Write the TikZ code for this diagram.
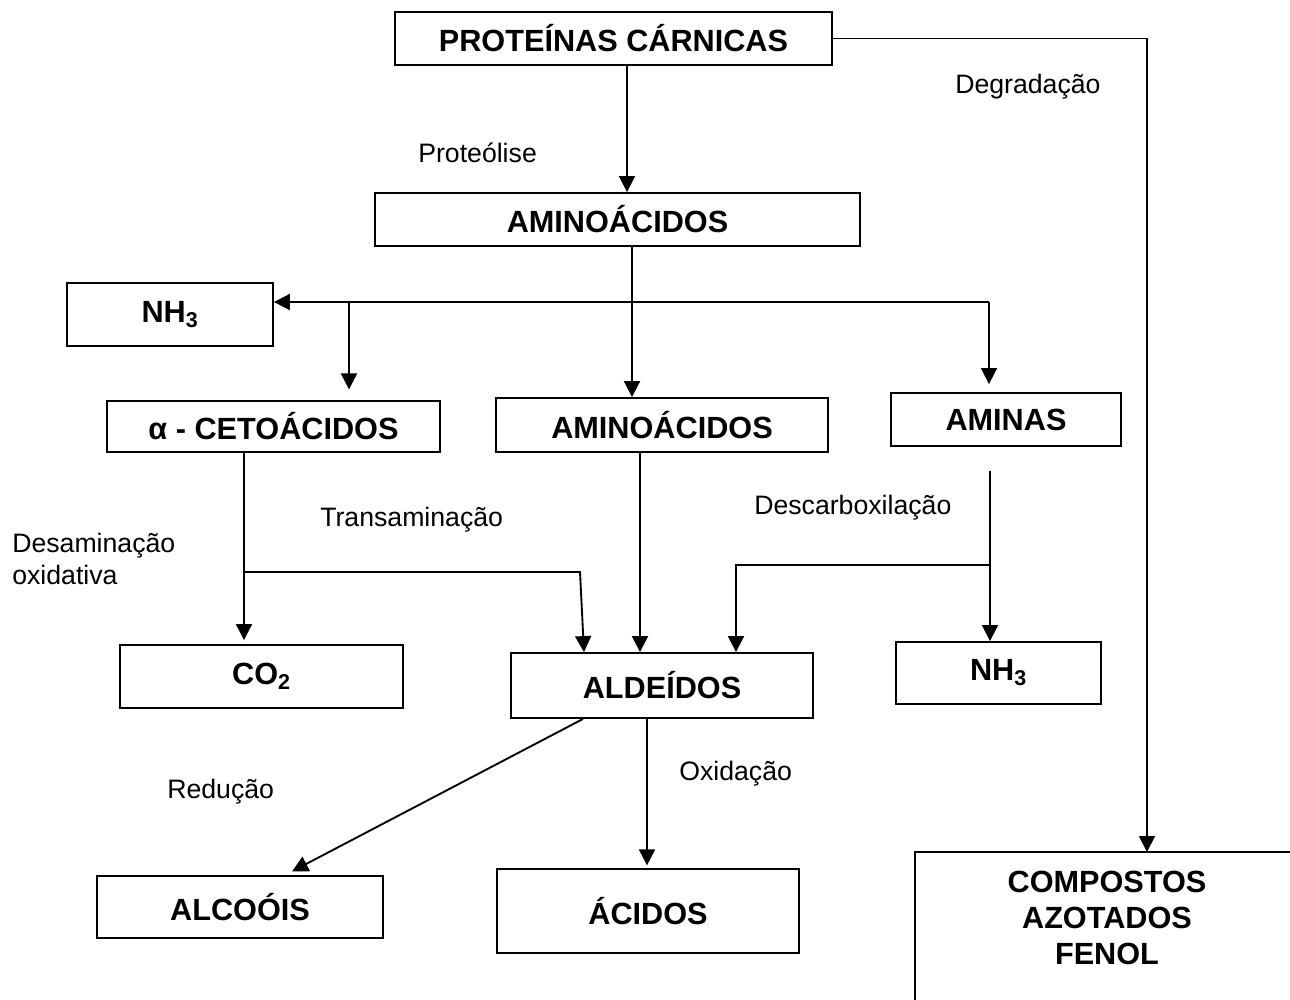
\documentclass[tikz,border=0pt]{standalone}
\usepackage{fontspec}
\setmainfont{Liberation Sans}
\usetikzlibrary{arrows.meta}
\tikzset{
  box/.style={draw, line width=1.4pt, inner sep=0pt, font=\fontsize{23}{27}\selectfont\bfseries},
  lbl/.style={anchor=west, inner sep=0pt, font=\fontsize{20}{24}\selectfont},
  arr/.style={line width=1.4pt, -{Triangle[length=12pt,width=12pt]}},
}

\begin{document}
\begin{tikzpicture}[x=0.75pt,y=0.75pt,yscale=-1,xscale=1]
\useasboundingbox (0,0) rectangle (1290,1000);

% Boxes
\node[box, minimum width=327.75pt, minimum height=39.75pt] (prot) at (613.5,38.5) {PROTEÍNAS CÁRNICAS};
\node[box, minimum width=363.75pt, minimum height=39.75pt] (amino1) at (617.5,219.5) {AMINOÁCIDOS};
\node[box, minimum width=154.5pt, minimum height=47.25pt] (nhA) at (170,314.5) {NH\textsubscript{3}};
\node[box, minimum width=249.75pt, minimum height=38.25pt] (ceto) at (273.5,426.5) {α - CETOÁCIDOS};
\node[box, minimum width=249pt, minimum height=40.5pt] (amino2) at (662,425) {AMINOÁCIDOS};
\node[box, minimum width=172.5pt, minimum height=39.75pt] (aminas) at (1006,419.5) {AMINAS};
\node[box, minimum width=212.25pt, minimum height=47.25pt] (co2) at (261.5,676.5) {CO\textsubscript{2}};
\node[box, minimum width=226.5pt, minimum height=48.75pt] (ald) at (662,685.5) {ALDEÍDOS};
\node[box, minimum width=153.75pt, minimum height=46.5pt] (nhB) at (998.5,673) {NH\textsubscript{3}};
\node[box, minimum width=214.5pt, minimum height=46.5pt] (alc) at (240,907) {ALCOÓIS};
\node[box, minimum width=226.5pt, minimum height=63pt] (acid) at (648,911) {ÁCIDOS};
% open box, cut by the page edge
\draw[line width=1.4pt] (1290,852) -- (915,852) -- (915,1000);
\node[box, draw=none, align=center] (comp) at (1107,918) {COMPOSTOS\\AZOTADOS\\FENOL};

% Labels
\node[lbl] (lprot) at (418,153) {Proteólise};
\node[lbl] (ldeg) at (955,87) {Degradação};
\node[lbl] (ltrans) at (320,520) {Transaminação};
\node[lbl, align=left] (ldes) at (12,559) {Desaminação\\oxidativa};
\node[lbl] (ldesc) at (754,508) {Descarboxilação};
\node[lbl] (lred) at (167,792) {Redução};
\node[lbl] (loxi) at (679,774) {Oxidação};

% Junctions
\coordinate (compIn) at (1147,852);
\coordinate (jL) at (349,302);
\coordinate (jR) at (989,302);
\coordinate (jC) at (244,572);
\coordinate (jC2) at (580,572);
\coordinate (jD) at (990,565);
\coordinate (jD2) at (736,565);

% Arrows
\draw[arr] (prot.south -| 627,0) -- (amino1.north -| 627,0);
\draw[arr] (prot.east) -| (compIn);
\draw[arr] (amino1.south -| 632,0) -- (amino2.north -| 632,0);
\draw[arr] (jR) -- (jR -| nhA.east);
\draw[arr, shorten >=8pt] (jL) -- (jL |- ceto.north);
\draw[arr, shorten >=6pt] (jR) -- (jR |- aminas.north);
\draw[arr, shorten >=3pt] (ceto.south -| jC) -- (co2.north -| jC);
\draw[arr] (jC) -- (jC2) -- (ald.north -| 584,0);
\draw[arr] (amino2.south -| 640,0) -- (ald.north -| 640,0);
\draw[arr, shorten <=18pt] (aminas.south -| 990,0) -- (nhB.north -| 990,0);
\draw[arr] (jD) -- (jD2) -- (ald.north -| jD2);
\draw[arr, shorten >=6pt] (ald.south -| 583,0) -- (alc.north -| 285,0);
\draw[arr, shorten >=2pt] (ald.south -| 647,0) -- (acid.north -| 647,0);

\end{tikzpicture}
\end{document}
